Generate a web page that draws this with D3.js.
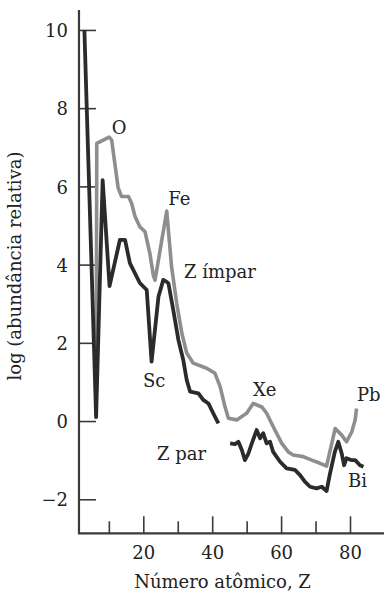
<!DOCTYPE html>
<html>
<head>
<meta charset="utf-8">
<script src="https://cdn.jsdelivr.net/npm/d3@7"></script>
<style>
body{margin:0;background:#fff;}
text{font-family:"DejaVu Serif",serif;fill:#222;}
</style>
</head>
<body>
<div id="chart-area"></div>
<script>
// curva escura (com lacuna entre ~42 e ~45)
var zDark=[2.9,6.3,8.2,10.2,13.2,14.7,16.1,19.0,21.0,22.4,24.4,25.8,26.8,27.3,28.7,30.2,31.6,32.6,33.6,36.0,
	37.4,38.9,40.3,41.8,43.5,45.2,46.6,47.6,48.6,49.5,50.5,51.5,52.9,53.9,54.8,55.8,56.8,57.7,59.7,61.6,
	64.0,65.5,66.9,68.4,70.3,71.8,73.2,74.2,75.6,76.6,77.6,78.3,79.0,80.5,81.5,82.9,83.9];
var logDark=[10.0,0.1,6.16,3.45,4.63,4.63,4.04,3.53,3.35,1.52,3.18,3.61,3.56,3.52,2.84,2.07,1.56,1.05,0.75,0.71,
	0.54,0.45,0.2,-0.06,null,-0.57,-0.59,-0.53,-0.74,-1.0,-0.83,-0.57,-0.23,-0.44,-0.31,-0.57,-0.53,-0.79,-1.04,-1.21,
	-1.25,-1.38,-1.55,-1.68,-1.72,-1.68,-1.79,-1.34,-0.79,-0.53,-0.83,-1.13,-0.95,-1.0,-1.0,-1.13,-1.17];

// curva cinza
var zGray=[6.3,6.5,10.1,10.8,12.7,13.7,15.7,16.6,17.6,19.0,20.5,21.9,22.9,23.4,26.8,28.2,29.7,31.2,32.6,34.5,
	38.4,40.8,42.3,43.7,44.7,47.1,50.0,51.9,54.4,55.8,58.2,60.2,62.1,63.5,66.4,68.9,71.3,73.2,75.7,77.6,
	79.0,80.5,81.5,81.9];
var logGray=[0.15,7.1,7.26,7.19,5.96,5.74,5.74,5.57,5.23,4.97,4.84,4.29,3.73,3.6,5.37,3.95,3.01,2.24,1.74,1.48,
	1.35,1.22,0.88,0.37,0.07,0.03,0.2,0.45,0.36,0.2,-0.23,-0.57,-0.79,-0.87,-0.91,-1.0,-1.08,-1.15,-0.19,-0.36,
	-0.53,-0.28,0.03,0.32];

var yTicks=[-2,0,2,4,6,8,10];
var xTicks=[10,20,30,40,50,60,70,80,90];
var xLabels=[20,40,60,80];

var labelText=["O","Fe","Z ímpar","Sc","Xe","Pb","Z par","Bi"];
var labelZ=[12.95,27.26,31.81,19.91,51.84,82.03,23.98,79.42];
var labelLog=[7.34,5.52,3.67,0.88,0.63,0.5,-1.0,-1.68];

var width=384, height=597;

var svg=d3.select("#chart-area").append("svg")
	.attr("width",width)
	.attr("height",height);

var x=d3.scaleLinear()
	.domain([0,90])
	.range([74.4,384.45]);

var y=d3.scaleLinear()
	.domain([-2.87,10.51])
	.range([533.3,10]);

var axisColor="#3a3a3a";

// eixo y
var leftAxis=d3.axisLeft(y)
	.tickValues(yTicks)
	.tickSizeInner(-17)
	.tickSizeOuter(0)
	.tickPadding(11)
	.tickFormat(d3.format("d"));

var gy=svg.append("g")
	.attr("transform","translate("+x(1.33)+",0)")
	.call(leftAxis);
gy.select(".domain").remove();
gy.selectAll("line").attr("stroke",axisColor).attr("stroke-width",1.6);
gy.selectAll("text")
	.attr("font-family","DejaVu Serif")
	.attr("font-size","18px")
	.attr("fill","#222")
	.attr("dy","0.37em");

// eixo x
var bottomAxis=d3.axisBottom(x)
	.tickValues(xTicks)
	.tickSizeInner(-17)
	.tickSizeOuter(0)
	.tickFormat((d)=>{return xLabels.indexOf(d)>=0 ? d : "";});

var gx=svg.append("g")
	.attr("transform","translate(0,"+y(-2.87)+")")
	.call(bottomAxis);
gx.select(".domain").remove();
gx.selectAll("line")
	.attr("stroke",axisColor)
	.attr("stroke-width",1.6)
	.attr("y2",(d)=>{return xLabels.indexOf(d)>=0 ? -17 : -12;});
gx.selectAll("text")
	.attr("font-family","DejaVu Serif")
	.attr("font-size","18px")
	.attr("fill","#222")
	.attr("y",26)
	.attr("dy",0);

svg.append("line")
	.attr("x1",x(1.33)).attr("x2",x(1.33))
	.attr("y1",y(10.51)).attr("y2",y(-2.87))
	.attr("stroke",axisColor).attr("stroke-width",2.2);
svg.append("line")
	.attr("x1",x(1.33)-1).attr("x2",width)
	.attr("y1",y(-2.87)).attr("y2",y(-2.87))
	.attr("stroke",axisColor).attr("stroke-width",2.2);

// curvas
var line=d3.line()
	.defined((d)=>{return d[1]!=null;})
	.x((d)=>{return x(d[0]);})
	.y((d)=>{return y(d[1]);});

svg.append("path")
	.datum(zGray.map((z,i)=>{return [z,logGray[i]];}))
	.attr("d",line)
	.attr("fill","none")
	.attr("stroke","#8e8e8e")
	.attr("stroke-width",3.6)
	.attr("stroke-linejoin","round");

svg.append("path")
	.datum(zDark.map((z,i)=>{return [z,logDark[i]];}))
	.attr("d",line)
	.attr("fill","none")
	.attr("stroke","#2b2b2b")
	.attr("stroke-width",3.8)
	.attr("stroke-linejoin","round");

// rótulos
labelText.forEach((t,i)=>{
	svg.append("text")
		.attr("x",x(labelZ[i]))
		.attr("y",y(labelLog[i]))
		.attr("font-size","18px")
		.attr("text-anchor",t=="O" ? "middle" : "start")
		.text(t);
});

svg.append("text")
	.attr("x",222.5)
	.attr("y",588)
	.attr("font-size","18px")
	.attr("text-anchor","middle")
	.text("Número atômico, Z");

svg.append("text")
	.attr("transform","translate(21,266) rotate(-90)")
	.attr("font-size","18px")
	.attr("text-anchor","middle")
	.text("log (abundância relativa)");
</script>
</body>
</html>
